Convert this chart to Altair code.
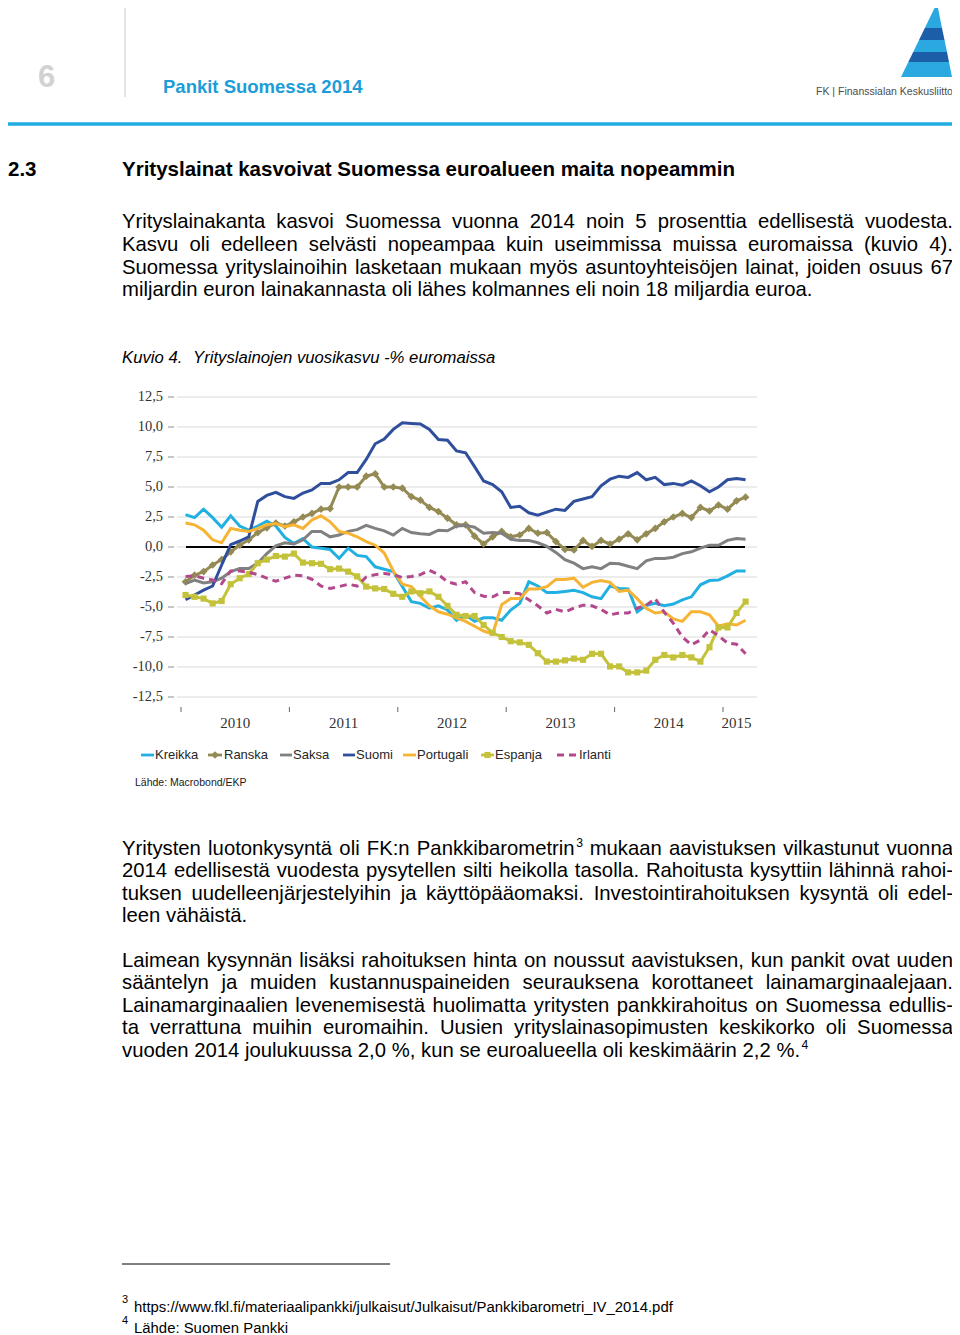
import altair as alt
import pandas as pd

# ---------------- chart data ----------------
series_names = ["Kreikka", "Ranska", "Saksa", "Suomi", "Portugali", "Espanja", "Irlanti"]
series_colors = ["#22b0e2", "#948a54", "#808080", "#2f4f9d", "#f6b334", "#c4c23a", "#b3488b"]
first_year = 2010  # monthly observations starting January 2010

kreikka = [2.7, 2.45, 3.15, 2.45, 1.65, 2.6, 1.75, 1.4, 1.75, 2.15,
           1.75, 0.8, 0.3, 0.7, 0.0, -0.1, -0.2, -0.95, -0.1, -0.7,
           -0.8, -1.65, -1.85, -2.05, -3.3, -4.55, -4.7, -5.1, -4.9, -5.25,
           -6.1, -5.65, -6.2, -5.9, -5.9, -6.1, -5.25, -4.7, -2.9, -3.25,
           -3.8, -3.8, -3.7, -3.6, -3.8, -4.15, -4.3, -3.25, -3.45, -3.5,
           -5.4, -4.85, -4.7, -4.9, -4.75, -4.4, -4.15, -3.15, -2.8, -2.75,
           -2.4, -2.0, -2.0]
ranska = [-2.9, -2.35, -2.05, -1.5, -1.05, -0.4, 0.15, 0.6, 1.2, 1.6,
          2.0, 1.75, 2.1, 2.5, 2.8, 3.15, 3.2, 5.0, 5.0, 5.0,
          5.9, 6.1, 5.0, 5.0, 4.9, 4.2, 3.9, 3.3, 2.95, 2.4,
          1.85, 1.85, 0.9, 0.25, 0.85, 1.3, 0.85, 1.0, 1.55, 1.15,
          1.2, 0.45, -0.2, -0.25, 0.55, 0.05, 0.55, 0.25, 0.65, 1.1,
          0.6, 1.1, 1.55, 2.1, 2.5, 2.8, 2.45, 3.3, 3.0, 3.5,
          3.15, 3.85, 4.15]
saksa = [-3.05, -2.75, -3.0, -2.9, -2.6, -2.05, -1.8, -1.8, -1.35, -0.55,
         0.1, 0.35, 0.25, 0.6, 1.3, 1.3, 0.85, 1.0, 1.3, 1.45,
         1.8, 1.55, 1.35, 1.0, 1.55, 1.2, 1.1, 1.05, 1.4, 1.35,
         1.75, 1.8, 1.65, 1.15, 1.2, 1.15, 0.65, 0.55, 0.55, 0.35,
         0.05, -0.45, -1.05, -1.35, -1.8, -1.65, -1.8, -1.35, -1.4, -1.6,
         -1.8, -1.15, -0.95, -0.95, -0.85, -0.55, -0.4, -0.1, 0.15, 0.15,
         0.55, 0.7, 0.65]
suomi = [-4.4, -4.0, -3.6, -3.25, -1.5, 0.2, 0.5, 0.85, 3.8, 4.3,
         4.55, 4.2, 4.05, 4.5, 4.75, 5.3, 5.3, 5.6, 6.2, 6.2,
         7.3, 8.6, 9.0, 9.8, 10.35, 10.3, 10.25, 9.8, 8.95, 8.9,
         8.0, 7.85, 6.7, 5.5, 5.2, 4.6, 3.3, 3.4, 2.85, 2.65,
         2.9, 3.15, 3.05, 3.8, 4.0, 4.2, 5.1, 5.65, 5.9, 5.8,
         6.2, 5.6, 5.8, 5.2, 5.3, 5.15, 5.5, 5.1, 4.6, 5.0,
         5.6, 5.7, 5.6]
portugali = [2.0, 1.85, 1.4, 0.6, 0.35, 1.55, 1.4, 1.3, 1.55, 1.85,
             1.95, 1.7, 1.85, 1.55, 2.25, 2.6, 2.1, 1.3, 1.15, 0.85,
             0.45, 0.15, -0.5, -2.0, -3.1, -3.3, -4.1, -4.9, -5.4, -5.6,
             -5.9, -6.2, -6.6, -7.0, -7.25, -4.8, -4.3, -4.3, -3.5, -3.5,
             -3.3, -2.7, -2.7, -2.6, -3.35, -2.95, -2.8, -2.95, -3.7, -3.6,
             -4.3, -5.1, -5.5, -5.4, -6.0, -6.2, -5.4, -5.4, -5.65, -6.6,
             -6.4, -6.5, -6.1]
espanja = [-4.0, -4.15, -4.3, -4.7, -4.5, -3.1, -2.6, -2.25, -1.35, -1.05,
           -0.75, -0.8, -0.55, -1.3, -1.35, -1.4, -1.85, -1.8, -2.05, -2.45,
           -3.3, -3.45, -3.5, -3.9, -4.15, -3.7, -3.85, -3.7, -4.15, -4.9,
           -5.65, -5.75, -5.75, -6.5, -7.15, -7.5, -7.85, -7.95, -8.15, -8.85,
           -9.55, -9.55, -9.45, -9.3, -9.4, -8.9, -8.9, -9.95, -9.95, -10.45,
           -10.45, -10.3, -9.4, -9.0, -9.2, -9.0, -9.2, -9.55, -8.35, -6.7,
           -6.7, -5.5, -4.55]
irlanti = [-2.45, -2.4, -2.6, -2.75, -3.05, -2.0, -2.0, -2.1, -2.3, -2.6,
           -2.85, -2.6, -2.35, -2.4, -2.7, -3.25, -3.45, -3.3, -3.1, -3.25,
           -2.5, -2.3, -2.2, -2.3, -2.55, -2.45, -2.3, -1.95, -2.3, -2.9,
           -3.1, -2.9, -3.8, -4.1, -4.15, -3.8, -3.8, -3.9, -4.4, -4.9,
           -5.5, -5.2, -5.4, -5.1, -4.85, -4.9, -5.2, -5.65, -5.5, -5.5,
           -5.1, -4.85, -4.3, -5.45, -6.35, -7.5, -8.15, -7.75, -6.9, -7.4,
           -8.0, -8.1, -8.9]
values_by_series = [kreikka, ranska, saksa, suomi, portugali, espanja, irlanti]

ytick_values = [12.5, 10.0, 7.5, 5.0, 2.5, 0.0, -2.5, -5.0, -7.5, -10.0, -12.5]
ytick_labels = ["12,5", "10,0", "7,5", "5,0", "2,5", "0,0", "-2,5", "-5,0", "-7,5", "-10,0", "-12,5"]
year_ticks = [2010, 2011, 2012, 2013, 2014, 2015]
year_labels = ["2010", "2011", "2012", "2013", "2014", "2015"]

# ---------------- tables built from the arrays ----------------
recs = []
for name, vals in zip(series_names, values_by_series):
    for i, v in enumerate(vals):
        recs.append({"series": name, "t": first_year + (i + 0.5) / 12, "value": v})
df = pd.DataFrame(recs)
n_obs = len(kreikka)

year_pos = []
for y in year_ticks:
    ts = [first_year + (i + 0.5) / 12 for i in range(n_obs) if first_year + i // 12 == y]
    year_pos.append((min(ts) + max(ts)) / 2)

df_ygrid = pd.DataFrame({"v": ytick_values, "lab": ytick_labels})
df_years = pd.DataFrame({"yr": year_ticks})
df_yearlab = pd.DataFrame({"pos": year_pos, "lab": year_labels})

# ---------------- page layout (pixels) ----------------
M = 8  # page margin


def cx(p):
    return p - M


X_SCALE = alt.Scale(domain=[2010, 2015], range=[cx(181), cx(723)], nice=False, zero=False)
Y_SCALE = alt.Scale(domain=[-12.5, 12.5], range=[cx(697), cx(397)], nice=False, zero=False)

# Arial / Liberation Sans advance widths (1/1000 em)
AW = {' ': 278, '.': 278, ',': 278, '-': 333, '%': 889, '(': 333, ')': 333, ':': 278,
      '/': 278, '_': 556, 'ä': 556, 'ö': 556, 'å': 556}
for ch in '0123456789':
    AW[ch] = 556
AW.update(dict(a=556, b=556, c=500, d=556, e=556, f=278, g=556, h=556, i=222, j=222, k=500,
               l=222, m=833, n=556, o=556, p=556, q=556, r=333, s=500, t=278, u=556, v=500,
               w=722, x=500, y=500, z=500))
AW.update(dict(A=667, B=667, C=722, D=722, E=667, F=611, G=778, H=722, I=278, J=500, K=667,
               L=556, M=833, N=722, O=778, P=667, Q=778, R=722, S=667, T=611, U=722, V=667,
               W=944, X=667, Y=667, Z=611))


def tw(s, size):
    return sum(AW.get(c, 556) for c in s) * size / 1000.0


regular, bold, italic = [], [], []
BODY = 20.3


def add_line(rows, text, x0, y, size, justify_to=None, sups=None, color="#000000"):
    words = text.split(" ")
    sups = sups or {}
    widths = []
    for k, w in enumerate(words):
        ww = tw(w, size)
        if k in sups:
            ww += tw(sups[k], size * 0.6) + 1
        widths.append(ww)
    if justify_to is not None and len(words) > 1:
        gap = (justify_to - x0 - sum(widths)) / (len(words) - 1)
    else:
        gap = 278 * size / 1000.0
    x = x0
    for k, w in enumerate(words):
        rows.append({"txt": w, "px": cx(x), "py": cx(y), "size": size, "col": color})
        if k in sups:
            rows.append({"txt": sups[k], "px": cx(x + tw(w, size) + 1.5), "py": cx(y - 6),
                         "size": round(size * 0.6, 1), "col": color})
        x += widths[k] + gap


# header
bold.append({"txt": "6", "px": cx(38), "py": cx(78), "size": 31, "col": "#d2d2d2"})
bold.append({"txt": "Pankit Suomessa 2014", "px": cx(163), "py": cx(87), "size": 18.5, "col": "#1b9dd9"})
regular.append({"txt": "FK | Finanssialan Keskusliitto", "px": cx(816), "py": cx(92), "size": 10.5, "col": "#4d4d4d"})

# heading
bold.append({"txt": "2.3", "px": cx(8), "py": cx(170), "size": 20.5, "col": "#000000"})
bold.append({"txt": "Yrityslainat kasvoivat Suomessa euroalueen maita nopeammin", "px": cx(122),
             "py": cx(170), "size": 20.5, "col": "#000000"})

R = 953
p1 = [
    ("Yrityslainakanta kasvoi Suomessa vuonna 2014 noin 5 prosenttia edellisestä vuodesta.", 222, True),
    ("Kasvu oli edelleen selvästi nopeampaa kuin useimmissa muissa euromaissa (kuvio 4).", 245, True),
    ("Suomessa yrityslainoihin lasketaan mukaan myös asuntoyhteisöjen lainat, joiden osuus 67", 268, True),
    ("miljardin euron lainakannasta oli lähes kolmannes eli noin 18 miljardia euroa.", 290, False),
]
for t, y, j in p1:
    add_line(regular, t, 122, y, BODY, R if j else None)

italic.append({"txt": "Kuvio 4.", "px": cx(122), "py": cx(358), "size": 16.7, "col": "#000000"})
italic.append({"txt": "Yrityslainojen vuosikasvu -% euromaissa", "px": cx(193), "py": cx(358), "size": 16.7, "col": "#000000"})

p2 = [
    ("Yritysten luotonkysyntä oli FK:n Pankkibarometrin mukaan aavistuksen vilkastunut vuonna", 849, True, {4: "3"}),
    ("2014 edellisestä vuodesta pysytellen silti heikolla tasolla. Rahoitusta kysyttiin lähinnä rahoi-", 871, True, None),
    ("tuksen uudelleenjärjestelyihin ja käyttöpääomaksi. Investointirahoituksen kysyntä oli edel-", 894, True, None),
    ("leen vähäistä.", 916, False, None),
]
for t, y, j, s in p2:
    add_line(regular, t, 122, y, BODY, R if j else None, s)

p3 = [
    ("Laimean kysynnän lisäksi rahoituksen hinta on noussut aavistuksen, kun pankit ovat uuden", 961, True, None),
    ("sääntelyn ja muiden kustannuspaineiden seurauksena korottaneet lainamarginaalejaan.", 983, True, None),
    ("Lainamarginaalien levenemisestä huolimatta yritysten pankkirahoitus on Suomessa edullis-", 1006, True, None),
    ("ta verrattuna muihin euromaihin. Uusien yrityslainasopimusten keskikorko oli Suomessa", 1028, True, None),
    ("vuoden 2014 joulukuussa 2,0 %, kun se euroalueella oli keskimäärin 2,2 %.", 1051, False, {11: "4"}),
]
for t, y, j, s in p3:
    add_line(regular, t, 122, y, BODY, R if j else None, s)

# chart source and footnotes
regular.append({"txt": "Lähde: Macrobond/EKP", "px": cx(135), "py": cx(783), "size": 10.5, "col": "#1a1a1a"})
regular.append({"txt": "3", "px": cx(122), "py": cx(1300), "size": 11, "col": "#000000"})
regular.append({"txt": "https://www.fkl.fi/materiaalipankki/julkaisut/Julkaisut/Pankkibarometri_IV_2014.pdf",
                "px": cx(134), "py": cx(1308), "size": 14.9, "col": "#000000"})
regular.append({"txt": "4", "px": cx(122), "py": cx(1321), "size": 11, "col": "#000000"})
regular.append({"txt": "Lähde: Suomen Pankki", "px": cx(134), "py": cx(1329), "size": 14.9, "col": "#000000"})

# legend layout
leg_line_x0 = [141, 208, 280, 343, 403, 481, 557]
leg_line_x1 = [154, 222, 292, 355, 416, 494, 577]
leg_text_x = [155, 224, 293, 356, 417, 495, 579]
LEG_Y = 755
for name, tx in zip(series_names, leg_text_x):
    regular.append({"txt": name, "px": cx(tx), "py": cx(LEG_Y), "size": 13, "col": "#262626"})

df_leg = pd.DataFrame({"series": series_names, "x0": [cx(v) for v in leg_line_x0],
                       "x1": [cx(v) for v in leg_line_x1], "ly": [cx(LEG_Y)] * 7,
                       "xm": [cx((a + b) / 2) for a, b in zip(leg_line_x0, leg_line_x1)],
                       "col": series_colors})

one = pd.DataFrame({"k": [0]})


def text_layer(rows, **kw):
    return alt.Chart(pd.DataFrame(rows)).mark_text(align="left", baseline="middle",
                                                   font="Liberation Sans", **kw).encode(
        x=alt.X("px:Q", scale=None, axis=None),
        y=alt.Y("py:Q", scale=None, axis=None),
        text="txt:N",
        size=alt.Size("size:Q", scale=None, legend=None),
        color=alt.Color("col:N", scale=None, legend=None),
    )


layers = []

# header rules
layers.append(alt.Chart(one).mark_rule(color="#dddddd", strokeWidth=1.5).encode(
    x=alt.value(cx(125)), y=alt.value(0), y2=alt.value(cx(97))))
layers.append(alt.Chart(one).mark_rule(color="#22ade2", strokeWidth=3.5).encode(
    x=alt.value(0), x2=alt.value(944), y=alt.value(cx(124))))
layers.append(alt.Chart(one).mark_rule(color="#000000", strokeWidth=1).encode(
    x=alt.value(cx(122)), x2=alt.value(cx(390)), y=alt.value(cx(1264))))

# logo (custom symbol paths)
LOGO_C = (926, 40, 37)


def logo_path(pts):
    cx0, cy0, h = LOGO_C
    parts = []
    for k, (px, py) in enumerate(pts):
        parts.append(("M" if k == 0 else "L") + f"{(px - cx0) / h:.3f},{(py - cy0) / h:.3f}")
    return " ".join(parts) + " Z"


logo_polys = [
    ([(937, 3), (942, 28), (924.8, 28)], "#2aa9e1"),
    ([(924.8, 28), (942, 28), (944.5, 40), (919, 40)], "#1d5ea9"),
    ([(919, 40), (944.5, 40), (947, 52), (913.2, 52)], "#2aa9e1"),
    ([(913.2, 52), (947, 52), (949, 62), (908.3, 62)], "#1d5ea9"),
    ([(908.3, 62), (949, 62), (952, 77), (901, 77)], "#2aa9e1"),
]
for pts, col in logo_polys:
    layers.append(alt.Chart(one).mark_point(shape=logo_path(pts), size=(2 * LOGO_C[2]) ** 2,
                                            filled=True, opacity=1, color=col, strokeWidth=0).encode(
        x=alt.value(cx(LOGO_C[0])), y=alt.value(cx(LOGO_C[1]))))

# chart: gridlines, axis labels, ticks
layers.append(alt.Chart(df_ygrid).mark_rule(color="#d9d9d9", strokeWidth=1).encode(
    y=alt.Y("v:Q", scale=Y_SCALE, axis=None), x=alt.value(cx(177)), x2=alt.value(cx(757))))
layers.append(alt.Chart(df_ygrid).mark_rule(color="#8c8c8c", strokeWidth=1).encode(
    y=alt.Y("v:Q", scale=Y_SCALE, axis=None), x=alt.value(cx(168)), x2=alt.value(cx(174))))
layers.append(alt.Chart(df_ygrid).mark_text(align="right", baseline="middle", font="Liberation Serif",
                                            fontSize=14.5, color="#333333").encode(
    y=alt.Y("v:Q", scale=Y_SCALE, axis=None), x=alt.value(cx(163)), text="lab:N"))
layers.append(alt.Chart(df_years).mark_rule(color="#666666", strokeWidth=1).encode(
    x=alt.X("yr:Q", scale=X_SCALE, axis=None), y=alt.value(cx(707)), y2=alt.value(cx(712))))
layers.append(alt.Chart(df_yearlab).mark_text(baseline="middle", font="Liberation Serif",
                                              fontSize=15, color="#333333").encode(
    x=alt.X("pos:Q", scale=X_SCALE, axis=None), y=alt.value(cx(723)), text="lab:N"))
layers.append(alt.Chart(pd.DataFrame({"v": [0.0]})).mark_rule(color="#000000", strokeWidth=2).encode(
    y=alt.Y("v:Q", scale=Y_SCALE, axis=None), x=alt.value(cx(186)), x2=alt.value(cx(745))))

# series
for name, col in zip(series_names, series_colors):
    kw = {}
    if name == "Irlanti":
        kw["strokeDash"] = [7, 5]
    base = alt.Chart(df).transform_filter(alt.datum.series == name)
    layers.append(base.mark_line(color=col, strokeWidth=3, **kw).encode(
        x=alt.X("t:Q", scale=X_SCALE, axis=None), y=alt.Y("value:Q", scale=Y_SCALE, axis=None)))
    if name in ("Ranska", "Espanja"):
        shp, sz = ("diamond", 60) if name == "Ranska" else ("square", 38)
        layers.append(base.mark_point(shape=shp, size=sz, filled=True, opacity=1, color=col).encode(
            x=alt.X("t:Q", scale=X_SCALE, axis=None), y=alt.Y("value:Q", scale=Y_SCALE, axis=None)))

# legend symbols
for name in series_names:
    kw = {"strokeDash": [7, 5]} if name == "Irlanti" else {}
    lb = alt.Chart(df_leg).transform_filter(alt.datum.series == name)
    layers.append(lb.mark_rule(strokeWidth=2.8, **kw).encode(
        x=alt.X("x0:Q", scale=None, axis=None), x2="x1:Q",
        y=alt.Y("ly:Q", scale=None, axis=None), color=alt.Color("col:N", scale=None, legend=None)))
    if name in ("Ranska", "Espanja"):
        shp, sz = ("diamond", 60) if name == "Ranska" else ("square", 38)
        layers.append(lb.mark_point(shape=shp, size=sz, filled=True, opacity=1).encode(
            x=alt.X("xm:Q", scale=None, axis=None), y=alt.Y("ly:Q", scale=None, axis=None),
            color=alt.Color("col:N", scale=None, legend=None)))

# text
layers.append(text_layer(regular))
layers.append(text_layer(bold, fontWeight="bold"))
layers.append(text_layer(italic, fontStyle="italic"))

chart = alt.layer(*layers).resolve_scale(x="independent", y="independent").properties(
    width=944, height=1327, autosize=alt.AutoSizeParams(type="none"), padding=0,
    background="white").configure_view(strokeWidth=0)

chart.save("out.html", embed_options={"renderer": "svg", "actions": False})
